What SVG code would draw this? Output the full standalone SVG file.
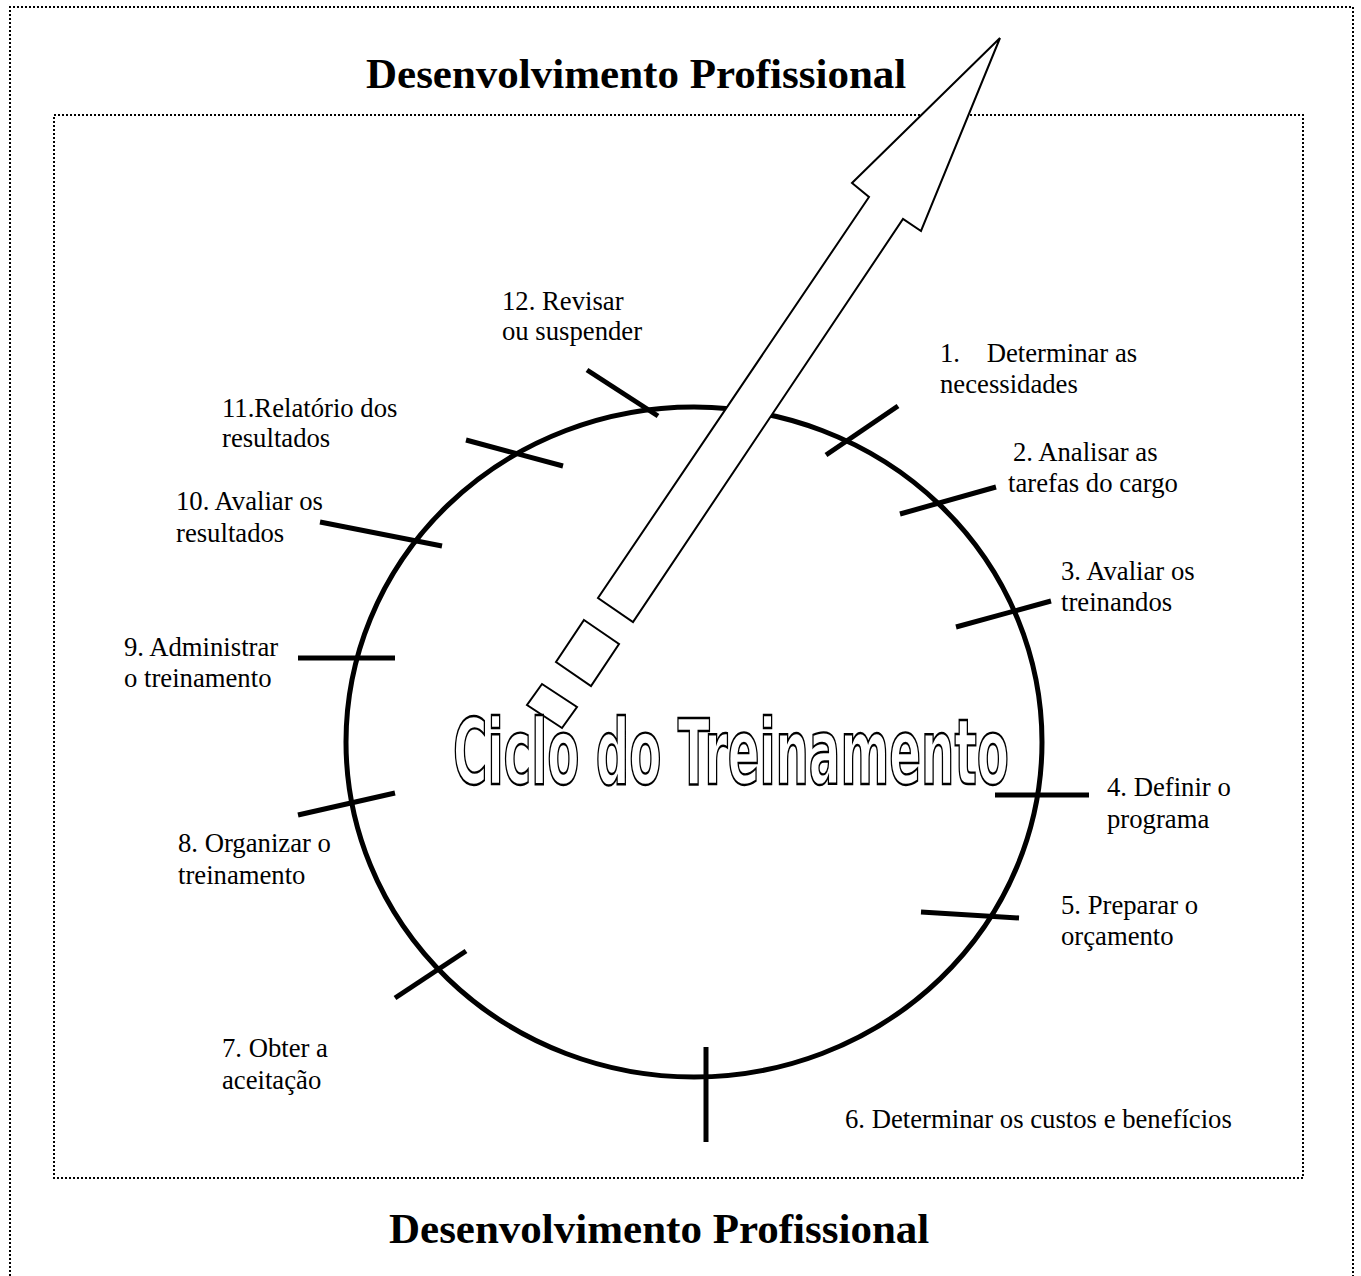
<svg xmlns="http://www.w3.org/2000/svg" width="1361" height="1276" viewBox="0 0 1361 1276">
<style>
.border{fill:none;stroke:#000;stroke-width:2;stroke-dasharray:2 2}
.tick{stroke:#000;stroke-width:5;fill:none}
.lbl{font-family:"Liberation Serif","Times New Roman",serif;font-size:26.7px;fill:#000}
.title{font-family:"Liberation Serif","Times New Roman",serif;font-size:43px;font-weight:bold;fill:#000}
.shape{fill:#fff;stroke:#000;stroke-width:2;stroke-linejoin:miter}
</style>
<rect width="1361" height="1276" fill="#fff"/>
<path class="border" d="M10,1276 V7 H1353 V1276"/>
<rect class="border" x="54" y="115" width="1249" height="1063"/>
<text class="title" x="366" y="88">Desenvolvimento Profissional</text>
<text class="title" x="389" y="1243">Desenvolvimento Profissional</text>
<g id="cycle">
<ellipse cx="694" cy="742" rx="348" ry="335" fill="none" stroke="#000" stroke-width="5"/>
</g>
<g id="arrow">
<polygon class="shape" points="1000,38 921,231 903,219 633,622 598,598 869,197 852,183"/>
<polygon class="shape" points="584,620 619,644 591,686 556,662"/>
<polygon class="shape" points="542,684 577,707 562,728 527,705"/>
</g>
<g id="center-title">
<text x="453" y="784" font-family="'DejaVu Sans','Liberation Sans',sans-serif" font-weight="bold" font-size="90" fill="#fff" stroke="#000" stroke-width="2.4" textLength="556" lengthAdjust="spacingAndGlyphs">Ciclo do Treinamento</text>
</g>
<g id="connectors">
<line class="tick" x1="587" y1="370" x2="658" y2="416"/>
<line class="tick" x1="898" y1="406" x2="826" y2="455"/>
<line class="tick" x1="466" y1="440" x2="563" y2="466"/>
<line class="tick" x1="900" y1="514" x2="996" y2="487"/>
<line class="tick" x1="320" y1="522" x2="442" y2="546"/>
<line class="tick" x1="956" y1="627" x2="1051" y2="601"/>
<line class="tick" x1="298" y1="658" x2="395" y2="658"/>
<line class="tick" x1="995" y1="795" x2="1089" y2="795"/>
<line class="tick" x1="298" y1="815" x2="395" y2="793"/>
<line class="tick" x1="921" y1="912" x2="1019" y2="918"/>
<line class="tick" x1="395" y1="998" x2="466" y2="951"/>
<line class="tick" x1="706" y1="1047" x2="706" y2="1142"/>
</g>
<g id="step1"><text class="lbl" x="940" y="362" xml:space="preserve">1.    Determinar as</text><text class="lbl" x="940" y="393">necessidades</text></g>
<g id="step2"><text class="lbl" x="1013" y="461">2. Analisar as</text><text class="lbl" x="1008" y="492">tarefas do cargo</text></g>
<g id="step3"><text class="lbl" x="1061" y="580">3. Avaliar os</text><text class="lbl" x="1061" y="611">treinandos</text></g>
<g id="step4"><text class="lbl" x="1107" y="796">4. Definir o</text><text class="lbl" x="1107" y="828">programa</text></g>
<g id="step5"><text class="lbl" x="1061" y="914">5. Preparar o</text><text class="lbl" x="1061" y="945">orçamento</text></g>
<g id="step6"><text class="lbl" x="845" y="1128">6. Determinar os custos e benefícios</text></g>
<g id="step7"><text class="lbl" x="222" y="1057">7. Obter a</text><text class="lbl" x="222" y="1089">aceitação</text></g>
<g id="step8"><text class="lbl" x="178" y="852">8. Organizar o</text><text class="lbl" x="178" y="884">treinamento</text></g>
<g id="step9"><text class="lbl" x="124" y="656">9. Administrar</text><text class="lbl" x="124" y="687">o treinamento</text></g>
<g id="step10"><text class="lbl" x="176" y="510">10. Avaliar os</text><text class="lbl" x="176" y="542">resultados</text></g>
<g id="step11"><text class="lbl" x="222" y="417">11.Relatório dos</text><text class="lbl" x="222" y="447">resultados</text></g>
<g id="step12"><text class="lbl" x="502" y="310">12. Revisar</text><text class="lbl" x="502" y="340">ou suspender</text></g>
</svg>
